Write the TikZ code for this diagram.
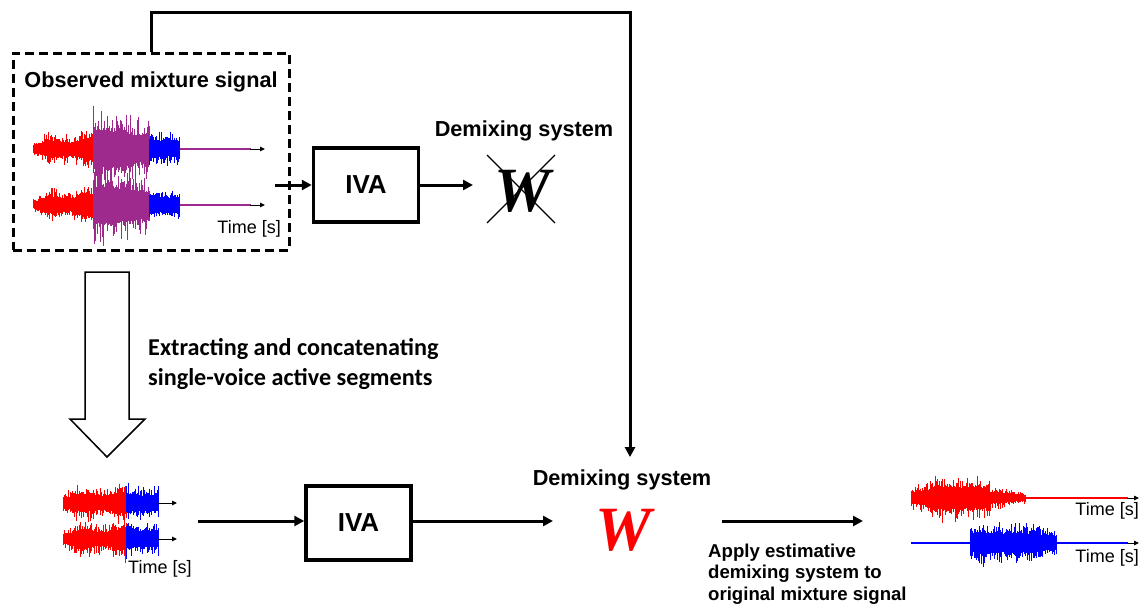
\documentclass[tikz,border=0pt]{standalone}
\usepackage{fontspec}
\setmainfont{Liberation Sans}
\newfontfamily\calfont{Carlito}
\newfontfamily\serffont{Liberation Serif}
\usetikzlibrary{arrows.meta,calc}
\definecolor{mixpurple}{RGB}{158,42,142}
\definecolor{sigred}{RGB}{255,0,0}
\definecolor{sigblue}{RGB}{0,0,255}

% one stretch of a noisy waveform: x0, x1, centre y, start amplitude, end amplitude, colour
\newcommand\wavseg[6]{%
  \pgfmathtruncatemacro\wsn{(#2-#1)/0.7}%
  \draw[#6, line width=0.75pt]
    foreach \i in {0,...,\wsn} {
      ({#1+0.7*\i}, {#3-(#4+(#5-#4)*\i/\wsn)*(0.4+0.6*rnd*rnd)}) --
      ({#1+0.7*\i}, {#3+(#4+(#5-#4)*\i/\wsn)*(0.4+0.6*rnd*rnd)})
    };
}
% quiet tail of a waveform
\newcommand\quiet[4]{% x0, x1, centre y, colour
  \draw[#4, line width=2.4pt] (#1,#3) -- (#2,#3);
}
% time axis arrow
\newcommand\taxis[3]{% x0, x1, y
  \draw[line width=1pt, -{Triangle[length=5pt,width=4.5pt]}] (#1,#3) -- (#2,#3);
}

\tikzset{
  conn/.style={line width=3pt, -{Triangle[length=10pt,width=10pt]}},
  ivabox/.style={draw, line width=3.5pt, minimum width=105pt, minimum height=74pt,
    font=\fontsize{26}{26}\selectfont\bfseries, inner sep=0pt},
  lbl/.style={inner sep=0pt, font=\fontsize{21.7}{25}\selectfont\bfseries},
  tlbl/.style={inner sep=0pt, font=\fontsize{18}{20}\selectfont},
  wsym/.style={inner sep=0pt, font=\serffont\fontsize{63}{63}\selectfont\bfseries\itshape},
}

\begin{document}
\begin{tikzpicture}[x=1pt, y=-1pt]
\useasboundingbox (0,0) rectangle (1145,608);
\pgfmathsetseed{11}

% ---------- observed mixture (top left) ----------
\node[draw, line width=3pt, dash pattern=on 9pt off 5pt,
      minimum width=276pt, minimum height=197pt, inner sep=0pt] (obs) at (151,151.5) {};
\node[lbl, anchor=base] (obstitle) at (151,87) {Observed mixture signal};

\foreach \yc in {149,205}{
  \wavseg{33}{50}{\yc}{8}{20}{sigred}
  \wavseg{50}{72}{\yc}{20}{15}{sigred}
  \wavseg{72}{93}{\yc}{17}{28}{sigred}
  \wavseg{93}{116}{\yc}{46}{41}{mixpurple}
  \wavseg{116}{149}{\yc}{41}{31}{mixpurple}
  \wavseg{149}{165}{\yc}{21}{17}{sigblue}
  \wavseg{165}{180}{\yc}{17}{19}{sigblue}
  \quiet{180}{251}{\yc}{mixpurple}
  \taxis{250}{265}{\yc}
}
\node[tlbl, anchor=base east] (t1) at (281,233) {Time [s]};

% ---------- first IVA (fails) ----------
\node[ivabox] (iva1) at (366,185) {IVA};
\coordinate (obsout) at (275,185);
\draw[conn] (obsout) -- (iva1.west);

\node[lbl, anchor=base] (dmx1) at (524,136) {Demixing system};
\node[wsym] (wx) at (523,191) {W};
\coordinate (wxin) at (473,185);
\draw[conn] (iva1.east) -- (wxin);
\draw[line width=1.3pt] ($(wx)+(-36,-36)$) -- ($(wx)+(32,32)$)
                        ($(wx)+(32,-36)$) -- ($(wx)+(-36,32)$);

% ---------- hollow arrow: segment extraction ----------
\draw[line width=1.5pt, fill=white] (85,272) -- (129,272) -- (129,419) -- (145,419)
   -- (107,457) -- (70,419) -- (85,419) -- cycle;
\node[inner sep=0pt, anchor=base west, font=\calfont\fontsize{24.2}{30}\selectfont\bfseries,
      align=left] (extr) at (148,385) {Extracting and concatenating\\single-voice active segments};

% ---------- concatenated segments (bottom left) ----------
\foreach \yc in {503,539}{
  \wavseg{63}{80}{\yc}{10}{22}{sigred}
  \wavseg{80}{105}{\yc}{22}{16}{sigred}
  \wavseg{105}{126}{\yc}{16}{27}{sigred}
  \wavseg{126}{142}{\yc}{23}{18}{sigblue}
  \wavseg{142}{159}{\yc}{18}{20}{sigblue}
  \taxis{158}{177}{\yc}
}
\node[tlbl, anchor=base west] (t2) at (128,573) {Time [s]};

% ---------- second IVA ----------
\node[ivabox] (iva2) at (358.5,523) {IVA};
\coordinate (segout) at (198,521);
\draw[conn] (segout) -- (segout -| iva2.west);

\node[lbl, anchor=base] (dmx2) at (622,485) {Demixing system};
\node[wsym, text=sigred] (wr) at (624,530) {W};
\coordinate (wrin) at (553,521);
\draw[conn] (iva2.east |- segout) -- (wrin);

% feedback of the original mixture to the estimated system
\draw[line width=3pt, -{Triangle[length=10pt,width=10pt]}]
  (obs.north) |- (630,12) -- ($(dmx2.north -| 630,0)+(0,-12)$);

% ---------- apply the system ----------
\coordinate (applyin) at (722,521);
\coordinate (applyout) at (863,521);
\draw[conn] (applyin) -- (applyout);
\node[inner sep=0pt, anchor=base west, font=\fontsize{18.6}{21.5}\selectfont\bfseries,
      align=left] (apply) at (708,600) {Apply estimative\\demixing system to\\original mixture signal};

% ---------- separated outputs (right) ----------
\wavseg{911}{930}{498}{12}{20}{sigred}
\wavseg{930}{990}{498}{28}{24}{sigred}
\wavseg{990}{1025}{498}{14}{6}{sigred}
\quiet{1025}{1128}{498}{sigred}
\taxis{1127}{1139}{498}
\node[tlbl, anchor=base east] (t3) at (1139,515) {Time [s]};

\quiet{911}{970}{543}{sigblue}
\wavseg{970}{985}{543}{22}{26}{sigblue}
\wavseg{985}{1040}{543}{24}{22}{sigblue}
\wavseg{1040}{1057}{543}{20}{15}{sigblue}
\quiet{1057}{1128}{543}{sigblue}
\taxis{1127}{1139}{543}
\node[tlbl, anchor=base east] (t4) at (1139,562) {Time [s]};
\end{tikzpicture}
\end{document}
